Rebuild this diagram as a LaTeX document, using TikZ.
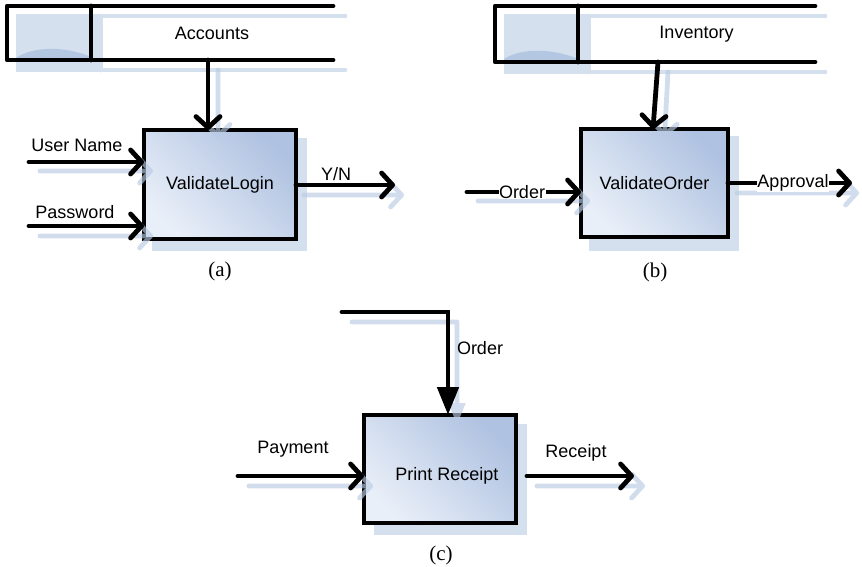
\documentclass[tikz,border=0pt]{standalone}
\usepackage{fontspec}
\setmainfont{Liberation Sans}
\newfontfamily\capfont{Liberation Serif}
\usetikzlibrary{arrows.meta,calc}

\definecolor{shadowblue}{HTML}{D5E0EF}
\definecolor{ghostblue}{HTML}{B9CBE4}
\definecolor{hump}{HTML}{B3C6E2}
\definecolor{boxdark}{HTML}{AFC2E1}
\definecolor{boxlight}{HTML}{E9EFF8}

\pgfdeclarelayer{back}
\pgfsetlayers{back,main}

\begin{document}
\begin{tikzpicture}[x=1pt,y=-1pt,
  font=\fontsize{18}{21}\selectfont,
  wire/.style={line width=4.8pt, line cap=round, line join=round},
  flow/.style={wire, -{Straight Barb[length=11pt,width=24pt,round]}},
  bigflow/.style={line width=4.8pt, line cap=round, -{Triangle[length=28pt,width=21pt]}},
  ghostwire/.style={line width=4.8pt, draw=ghostblue, line cap=round, line join=round},
  ghostflow/.style={ghostwire, -{Straight Barb[length=11pt,width=24pt,round]}},
  backline/.style={line width=4.8pt, draw=shadowblue, line cap=round, line join=round},
  process/.style={draw=black, line width=4.8pt, top color=boxdark, bottom color=boxlight,
    shading angle=-45, inner sep=0pt, outer sep=0pt},
  storetext/.style={inner sep=0pt, outer sep=0pt},
  tag/.style={inner sep=0.5pt},
  caption/.style={font=\capfont\fontsize{21}{24}\selectfont}]

\useasboundingbox (0,0) rectangle (862,567);

% ---------- (a) ValidateLogin ----------
\node[storetext, minimum width=242pt, minimum height=54pt] (acc) at (212,33) {Accounts};
\node[process, minimum width=152pt, minimum height=109pt] (vl) at (220,184.5) {ValidateLogin};
\coordinate (un) at (29,162);
\coordinate (pw) at (29,226);
\coordinate (yn) at (395,185);

% ---------- (b) ValidateOrder ----------
\node[storetext, minimum width=237pt, minimum height=56pt] (inv) at (696.5,34) {Inventory};
\node[process, minimum width=147pt, minimum height=108pt] (vo) at (654.5,183) {ValidateOrder};
\coordinate (ord) at (467,192);
\coordinate (apr) at (852,183);

% ---------- (c) Print Receipt ----------
\node[process, minimum width=152pt, minimum height=108pt] (pr) at (440,469) {};
\node (prtext) at (447,476) {Print Receipt};
\coordinate (oc) at (342,312);
\coordinate (pay) at (238,476);
\coordinate (rec) at (634,476);

% ---------- shadows behind everything ----------
\begin{pgfonlayer}{back}
  % process boxes
  \fill[shadowblue] ($(vl.north west)+(8,8)$) rectangle ($(vl.south east)+(11,12)$);
  \fill[shadowblue] ($(vo.north west)+(8,7)$) rectangle ($(vo.south east)+(11,14)$);
  \fill[shadowblue] ($(pr.north west)+(10,9)$) rectangle ($(pr.south east)+(11,12)$);
  % data store Accounts
  \fill[shadowblue] ($(acc.north west)+(-75,8)$) rectangle ($(acc.south west)+(10,12)$);
  \fill[hump] ($(acc.south west)+(-75,-2)$) .. controls ($(acc.south west)+(-58,-14)$) and ($(acc.south west)+(-25,-14)$) .. ($(acc.south west)+(0,-3)$) -- (acc.south west) -- ($(acc.south west)+(-75,0)$) -- cycle;
  \draw[backline] ($(acc.north west)+(10,10)$) -- ($(acc.north east)+(12,10)$);
  \draw[backline] ($(acc.south west)+(10,10)$) -- ($(acc.south east)+(12,10)$);
  \draw[backline] ($(acc.north west)+(10,10)$) -- ($(acc.south west)+(10,10)$);
  % data store Inventory
  \fill[shadowblue] ($(inv.north west)+(-74,8)$) rectangle ($(inv.south west)+(11,12)$);
  \fill[hump] ($(inv.south west)+(-74,-3)$) .. controls ($(inv.south west)+(-58,-14)$) and ($(inv.south west)+(-25,-14)$) .. ($(inv.south west)+(0,-3)$) -- (inv.south west) -- ($(inv.south west)+(-74,0)$) -- cycle;
  \draw[backline] ($(inv.north west)+(11,10)$) -- ($(inv.north east)+(10,10)$);
  \draw[backline] ($(inv.south west)+(11,10)$) -- ($(inv.south east)+(10,10)$);
  \draw[backline] ($(inv.north west)+(11,10)$) -- ($(inv.south west)+(11,10)$);
\end{pgfonlayer}

% ---------- connector shadows ----------
\begin{scope}[transparency group, opacity=.65]
  \draw[ghostflow] ($(un)+(11,9)$) -- ($(vl.west |- un)+(9,9)$);
  \draw[ghostflow] ($(pw)+(11,10)$) -- ($(vl.west |- pw)+(9,10)$);
  \draw[ghostflow] ($(vl.east |- yn)+(8,10)$) -- ($(yn)+(9,10)$);
  \draw[ghostflow] ($(acc.south)+(6,10)$) -- ($(vl.north)+(-2,8)$);
  \draw[ghostflow] ($(inv.south)+(-28.5,10)$) -- ($(vo.north)+(10,8)$);
  \draw[ghostflow] ($(ord)+(11,9)$) -- ($(vo.west |- ord)+(9,9)$);
  \draw[ghostflow] ($(vo.east |- apr)+(9,10)$) -- ($(apr)+(7,10)$);
  \draw[ghostwire, -{Triangle[length=22pt,width=16pt]}] ($(oc)+(10,10)$) -| ($(pr.north)+(17,10)$);
  \draw[ghostflow] ($(pay)+(11,10)$) -- ($(pr.west |- pay)+(9,10)$);
  \draw[ghostflow] ($(pr.east |- rec)+(21,10)$) -- ($(rec)+(11,10)$);
\end{scope}

% ---------- data stores ----------
\draw[wire] (acc.north east) -- ++(-326,0) -- ++(0,54) -- (acc.south east);
\draw[wire] (acc.north west) -- (acc.south west);
\draw[wire] (inv.north east) -- ++(-320,0) -- ++(0,56) -- (inv.south east);
\draw[wire] (inv.north west) -- (inv.south west);

% ---------- connectors (a) ----------
\draw[flow] ($(acc.south)+(-4,0)$) -- ($(vl.north)+(-12,0)$);
\draw[flow] (un) -- (vl.west |- un);
\draw[flow] (pw) -- (vl.west |- pw);
\draw[flow] (vl.east |- yn) -- (yn);
\node at (77,145) {User Name};
\node at (75,212) {Password};
\node at (336,174) {Y/N};

% ---------- connectors (b) ----------
\draw[flow] ($(inv.south)+(-38.5,0)$) -- ($(vo.north)+(-1.5,0)$);
\draw[flow] (ord) -- (vo.west |- ord);
\draw[flow] (vo.east |- apr) -- (apr);
\node[tag, fill=white] at (522,192) {Order};
\node[tag, fill=white] at (793,183) {Approval};

% ---------- connectors (c) ----------
\draw[bigflow] (oc) -| ($(pr.north)+(8,0)$);
\draw[flow] (pay) -- (pr.west |- pay);
\draw[flow] ($(pr.east |- rec)+(11,0)$) -- (rec);
\node at (480,348) {Order};
\node at (293,449) {Payment};
\node at (576,453) {Receipt};

% ---------- captions ----------
\node[caption] at (220,271) {(a)};
\node[caption] at (655,272) {(b)};
\node[caption] at (441,555) {(c)};
\end{tikzpicture}
\end{document}
